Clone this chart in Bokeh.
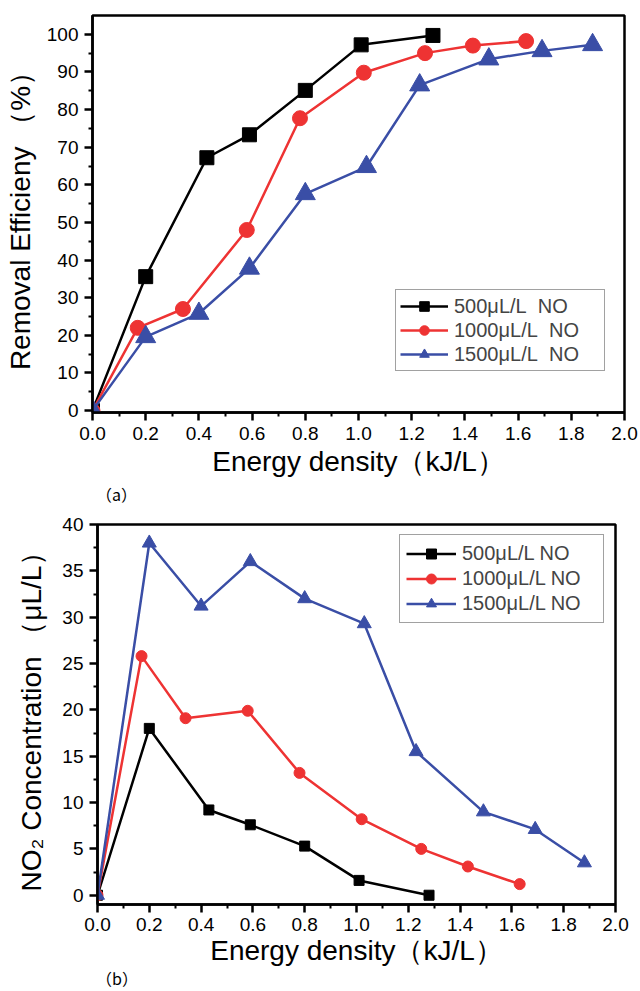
from bokeh.plotting import figure
from bokeh.models import FixedTicker, PrintfTickFormatter, Legend, LegendItem, Range1d, Div
from bokeh.layouts import column, row
from bokeh.embed import file_html
from bokeh.resources import INLINE

# ---------------- data ----------------
energy_500 = [0, 0.20, 0.43, 0.59, 0.80, 1.01, 1.28]
energy_1000 = [0, 0.17, 0.34, 0.58, 0.78, 1.02, 1.25, 1.43, 1.63]
energy_1500 = [0, 0.20, 0.40, 0.59, 0.80, 1.03, 1.23, 1.49, 1.69, 1.88]

removal_500 = [0, 35.6, 67.2, 73.3, 85.1, 97.2, 99.7]
removal_1000 = [0, 22.0, 27.0, 48.0, 77.7, 89.8, 95.0, 97.0, 98.2]
removal_1500 = [0, 19.6, 25.8, 37.8, 57.6, 64.8, 86.5, 93.4, 95.6, 97.2]

no2_500 = [0, 18.0, 9.2, 7.6, 5.3, 1.6, 0.0]
no2_1000 = [0, 25.8, 19.1, 19.9, 13.2, 8.2, 5.0, 3.1, 1.2]
no2_1500 = [0, 38.0, 31.2, 36.0, 32.0, 29.3, 15.5, 9.0, 7.1, 3.5]

labels_a = ["500μL/L\u00a0\u00a0NO", "1000μL/L\u00a0\u00a0NO", "1500μL/L\u00a0\u00a0NO"]
labels_b = ["500μL/L NO", "1000μL/L NO", "1500μL/L NO"]

x_major = [round(0.2 * i, 1) for i in range(11)]
x_minor = [round(0.1 + 0.2 * i, 1) for i in range(10)]
ya_major = list(range(0, 101, 10))
ya_minor = list(range(5, 100, 10))
yb_major = list(range(0, 41, 5))
yb_minor = [2.5 + 5 * i for i in range(8)]

FONT = "Liberation Sans"
BLACK = "#000000"
RED = "#EE3333"
BLUE = "#3A4EA6"


def style_axes(p, ymaj, ymin, ylabel, ylabel_standoff, xlabel_standoff, xtick_standoff):
    p.xaxis.ticker = FixedTicker(ticks=x_major, minor_ticks=x_minor)
    p.xaxis.formatter = PrintfTickFormatter(format="%.1f")
    p.yaxis.ticker = FixedTicker(ticks=ymaj, minor_ticks=ymin)
    p.yaxis.formatter = PrintfTickFormatter(format="%d")
    p.xaxis.axis_label = "Energy density（kJ/L）"
    p.yaxis.axis_label = ylabel
    for ax in (p.xaxis, p.yaxis):
        ax.axis_line_width = 2.5
        ax.axis_line_color = BLACK
        ax.major_tick_in = 0
        ax.major_tick_out = 8
        ax.minor_tick_in = 0
        ax.minor_tick_out = 4
        ax.major_tick_line_width = 2.5
        ax.minor_tick_line_width = 2
        ax.major_tick_line_color = BLACK
        ax.minor_tick_line_color = BLACK
        ax.major_label_text_font = FONT
        ax.major_label_text_font_size = "19px"
        ax.major_label_text_color = BLACK
        ax.axis_label_text_font = FONT
        ax.axis_label_text_font_size = "28px"
        ax.axis_label_text_font_style = "normal"
        ax.axis_label_text_color = BLACK
        ax.major_label_standoff = 6
    p.xaxis.major_label_standoff = xtick_standoff
    p.xaxis.axis_label_standoff = xlabel_standoff
    p.yaxis.axis_label_standoff = ylabel_standoff
    p.xgrid.visible = False
    p.ygrid.visible = False
    p.outline_line_color = BLACK
    p.outline_line_width = 2.5
    p.outline_line_alpha = 1
    p.background_fill_color = "white"
    p.border_fill_color = "white"


def add_series(p, xs, ys, color, marker, size, lw):
    r1 = p.line(xs, ys, line_color=color, line_width=lw)
    r2 = p.scatter(xs, ys, marker=marker, size=size, fill_color=color, line_color=color)
    return [r1, r2]


def panel_label(text, h):
    return Div(text=text, width=640, height=h, margin=(0, 0, 0, 0),
               styles={"font-size": "16px", "font-family": "'Noto Sans CJK SC'",
                       "padding-left": "96px", "line-height": "16px", "color": "#000",
                       "overflow": "visible"})


# ---------------- (a) ----------------
pa = figure(width=640, height=486, output_backend="svg", toolbar_location=None,
            x_range=Range1d(0, 2.0), y_range=Range1d(-0.5, 105),
            min_border_left=92, min_border_right=16, min_border_top=15, min_border_bottom=74)
style_axes(pa, ya_major, ya_minor, "Removal Efficieny （%）", 8, 3, 6)
ra1 = add_series(pa, energy_500, removal_500, BLACK, "square", 14, 2.5)
ra2 = add_series(pa, energy_1000, removal_1000, RED, "circle", 15, 2.5)
ra3 = add_series(pa, energy_1500, removal_1500, BLUE, "triangle", 20, 2.5)
leg_a = Legend(items=[LegendItem(label=labels_a[0], renderers=ra1),
                      LegendItem(label=labels_a[1], renderers=ra2),
                      LegendItem(label=labels_a[2], renderers=ra3)],
               location=(303, 41), glyph_width=48, glyph_height=24, spacing=0, padding=4,
               margin=0, label_standoff=6, label_width=146,
               label_text_font=FONT, label_text_font_size="20px",
               border_line_color="#444444", border_line_width=1)
pa.add_layout(leg_a)

div_a = panel_label("（a）", 16)

# ---------------- (b) ----------------
pb = figure(width=640, height=468, output_backend="svg", toolbar_location=None,
            x_range=Range1d(0, 2.0), y_range=Range1d(-1, 40),
            min_border_left=97, min_border_right=25, min_border_top=22, min_border_bottom=66)
style_axes(pb, yb_major, yb_minor, "NO₂ Concentration （μL/L）", 12, 1, 5)
rb1 = add_series(pb, energy_500, no2_500, BLACK, "square", 10, 2.5)
rb2 = add_series(pb, energy_1000, no2_1000, RED, "circle", 11, 2.5)
rb3 = add_series(pb, energy_1500, no2_1500, BLUE, "triangle", 14, 2.5)
leg_b = Legend(items=[LegendItem(label=labels_b[0], renderers=rb1),
                      LegendItem(label=labels_b[1], renderers=rb2),
                      LegendItem(label=labels_b[2], renderers=rb3)],
               location=(302, 281), glyph_width=50, glyph_height=25, spacing=0, padding=6,
               margin=0, label_standoff=6, label_width=135,
               label_text_font=FONT, label_text_font_size="20px",
               border_line_color="#444444", border_line_width=1)
pb.add_layout(leg_b)

div_b = panel_label("（b）", 21)

layout = column(row(pa), div_a, row(pb), div_b, spacing=0)
open("out.html", "w").write(file_html(layout, INLINE))
